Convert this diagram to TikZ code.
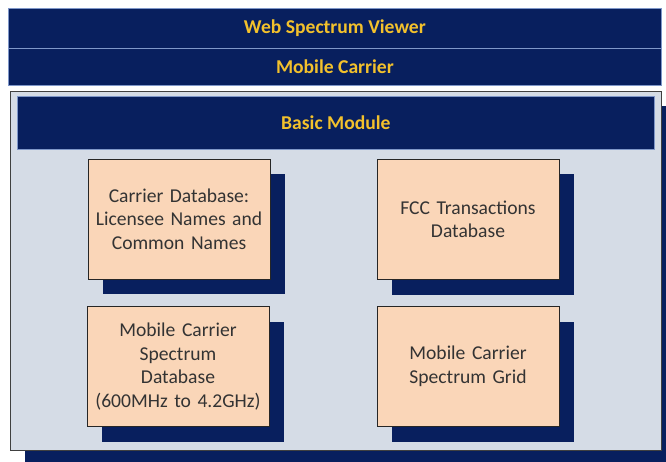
\documentclass[tikz,border=0pt]{standalone}
\usepackage{fontspec}
\setmainfont{Carlito}
\usetikzlibrary{shadows}
\definecolor{navy}{HTML}{081F5E}
\definecolor{lightbg}{HTML}{D5DCE6}
\definecolor{peach}{HTML}{FAD6B8}
\definecolor{gold}{HTML}{F3C12C}
\definecolor{edgeblue}{HTML}{7F97C9}
\definecolor{boxtext}{HTML}{333333}
\tikzset{
  titlebar/.style={draw=edgeblue, line width=0.8pt, fill=navy, text=gold,
    font=\fontsize{19.6}{23}\selectfont\bfseries, inner sep=0pt, anchor=north west},
  container/.style={draw=black!75, line width=0.8pt, fill=lightbg, inner sep=0pt, anchor=north west,
    drop shadow={shadow xshift=15pt, shadow yshift=-15pt, fill=navy, opacity=1}},
  dbbox/.style={draw=black!85, line width=0.8pt, fill=peach, text=boxtext,
    minimum width=182pt, minimum height=120pt, inner sep=2pt, align=center,
    text width=176pt,
    font=\fontsize{19.6}{23.5}\selectfont,
    drop shadow={shadow xshift=15pt, shadow yshift=-15pt, fill=navy, opacity=1}}
}
\begin{document}
\begin{tikzpicture}[x=1pt,y=-1pt]
\useasboundingbox (0,0) rectangle (666,462);
\fill[white] (0,0) rectangle (666,462);
\begin{scope}
\clip (0,0) rectangle (666,462);
% top bars
\node[titlebar, minimum width=653pt, minimum height=40pt] (web) at (8,8) {Web Spectrum Viewer};
\node[titlebar, minimum width=653pt, minimum height=37pt] (mobile) at (8,48) {Mobile Carrier};
% container
\node[container, minimum width=651pt, minimum height=359pt] (outer) at (10,91) {};
\node[titlebar, minimum width=637pt, minimum height=53pt] (basic) at (17,96) {Basic Module};
% boxes
\node[dbbox] (carrier) at (179,219) {Carrier Database:\\Licensee Names and\\Common Names};
\node[dbbox] (fcc) at (468,219.5) {FCC Transactions\\Database};
\node[dbbox] (spectrumdb) at (178,366.5) {Mobile Carrier\\Spectrum\\Database\\(600MHz to 4.2GHz)};
\node[dbbox] (grid) at (468,366.5) {Mobile Carrier\\Spectrum Grid};
\end{scope}
\end{tikzpicture}
\end{document}
